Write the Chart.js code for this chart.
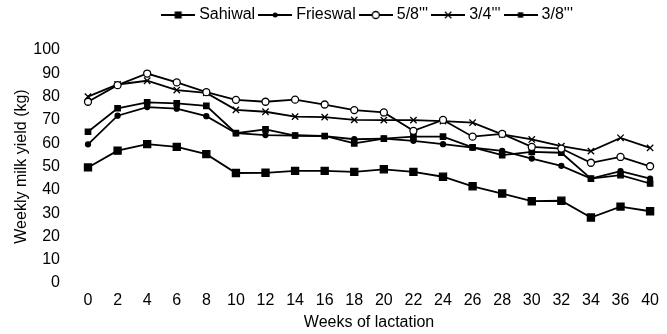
<!DOCTYPE html>
<html>
<head>
<meta charset="utf-8">
<title>Weekly milk yield</title>
<script src="https://cdn.jsdelivr.net/npm/chart.js"></script>
<style>
  html, body { margin: 0; padding: 0; background: #fff; }
  #wrap { width: 667px; height: 334px; }
</style>
</head>
<body>
<div id="wrap"><canvas id="chart"></canvas></div>
<script>
// weeks of lactation (no 38 in the original)
const weeks = ['0', '2', '4', '6', '8', '10', '12', '14', '16', '18', '20', '22', '24', '26', '28', '30', '32', '34', '36', '40'];

const sahiwal  = [49.6, 56.8, 59.6, 58.4, 55.3, 47.2, 47.3, 48.1, 48.1, 47.7, 48.8, 47.7, 45.6, 41.5, 38.4, 35.1, 35.3, 28.1, 32.8, 30.8];
const frieswal = [59.5, 71.8, 75.5, 74.8, 71.6, 64.3, 63.5, 63.3, 63.0, 61.7, 62.0, 61.0, 59.6, 58.1, 56.7, 53.4, 50.3, 44.8, 48.0, 44.8];
const cross58  = [77.8, 84.9, 89.9, 86.1, 81.9, 78.6, 77.8, 78.7, 76.6, 74.2, 73.2, 65.3, 70.0, 62.8, 64.0, 58.4, 57.7, 51.6, 54.1, 50.1];
const cross34  = [80.0, 85.2, 86.8, 82.8, 81.6, 74.3, 73.5, 71.4, 71.2, 70.0, 69.9, 69.9, 69.5, 68.8, 63.8, 61.6, 58.7, 56.6, 62.3, 58.0];
const cross38  = [64.9, 75.0, 77.5, 77.1, 76.0, 64.3, 65.9, 63.3, 63.1, 59.9, 62.0, 62.8, 62.8, 58.2, 54.9, 56.3, 55.9, 44.8, 46.3, 42.7];

const yTicks = [0, 10, 20, 30, 40, 50, 60, 70, 80, 90, 100];

const font = "Arial, 'Liberation Sans', sans-serif";

// little line + marker picture for the legend
function legendIcon(style, r, filled) {
  const c = document.createElement('canvas');
  c.width = 34;
  c.height = 12;
  const g = c.getContext('2d');
  g.strokeStyle = '#000';
  g.fillStyle = '#000';
  g.lineWidth = 1.8;
  g.beginPath();
  g.moveTo(0, 6);
  g.lineTo(34, 6);
  g.stroke();
  const x = 17, y = 6;
  g.beginPath();
  if (style === 'rect') {
    const s = r * Math.SQRT2 / 2;
    g.rect(x - s, y - s, 2 * s, 2 * s);
    g.fill();
  } else if (style === 'circle') {
    g.arc(x, y, r, 0, Math.PI * 2);
    if (filled) {
      g.fill();
    } else {
      g.fillStyle = '#fff';
      g.fill();
      g.lineWidth = 1.3;
      g.stroke();
    }
  } else if (style === 'crossRot') {
    const s = r * Math.SQRT1_2;
    g.lineWidth = 1.3;
    g.moveTo(x - s, y - s); g.lineTo(x + s, y + s);
    g.moveTo(x - s, y + s); g.lineTo(x + s, y - s);
    g.stroke();
  }
  return c;
}

function series(label, data, style, r, filled) {
  return {
    label: label,
    data: data,
    borderColor: '#000',
    borderWidth: 1.8,
    backgroundColor: filled ? '#000' : '#fff',
    pointStyle: style,
    pointRadius: r,
    pointBorderWidth: 1.3,
    pointBorderColor: '#000',
    pointBackgroundColor: filled ? '#000' : '#fff',
    tension: 0,
    icon: legendIcon(style, r, filled)
  };
}

const datasets = [
  series('Sahiwal', sahiwal, 'rect', 5, true),
  series('Frieswal', frieswal, 'circle', 2.5, true),
  series("5/8'''", cross58, 'circle', 3.5, false),
  series("3/4'''", cross34, 'crossRot', 4.5, false),
  series("3/8'''", cross38, 'rect', 3.8, true)
];

new Chart(document.getElementById('chart'), {
  type: 'line',
  data: { labels: weeks, datasets: datasets },
  options: {
    responsive: true,
    maintainAspectRatio: false,
    animation: false,
    layout: { padding: { left: 0, right: 14, top: 0, bottom: 0 } },
    plugins: {
      tooltip: { enabled: false },
      legend: {
        position: 'top',
        fullSize: false,
        labels: {
          color: '#000',
          font: { family: font, size: 16 },
          usePointStyle: true,
          pointStyleWidth: 26,
          padding: 7,
          generateLabels: function (chart) {
            const items = Chart.defaults.plugins.legend.labels.generateLabels(chart);
            items.forEach(function (it) {
              it.pointStyle = chart.data.datasets[it.datasetIndex].icon;
            });
            return items;
          }
        }
      },
      // empty subtitle only used as a gap between legend and plot
      subtitle: {
        display: true,
        text: '',
        weight: 900,
        padding: 0,
        font: { size: 17, lineHeight: 1 }
      }
    },
    scales: {
      x: {
        type: 'category',
        offset: false,
        afterFit: function (scale) {
          scale.height = 51;
        },
        grid: { display: false, drawTicks: false },
        border: { display: false },
        ticks: {
          color: '#000',
          font: { family: font, size: 16 },
          padding: 8,
          autoSkip: false,
          maxRotation: 0
        },
        title: {
          display: true,
          text: 'Weeks of lactation',
          color: '#000',
          font: { family: font, size: 16 },
          padding: { top: 2, bottom: 2 }
        }
      },
      y: {
        min: 0,
        max: 100,
        afterBuildTicks: function (scale) {
          scale.ticks = yTicks.map(function (v) { return { value: v }; });
        },
        afterFit: function (scale) {
          scale.width = 88;
        },
        grid: { display: false, drawTicks: false },
        border: { display: false },
        ticks: {
          color: '#000',
          font: { family: font, size: 16 },
          padding: 28
        },
        title: {
          display: true,
          text: 'Weekly milk yield (kg)',
          color: '#000',
          font: { family: font, size: 16 },
          padding: { top: 12, bottom: 0 }
        }
      }
    }
  }
});
</script>
</body>
</html>
